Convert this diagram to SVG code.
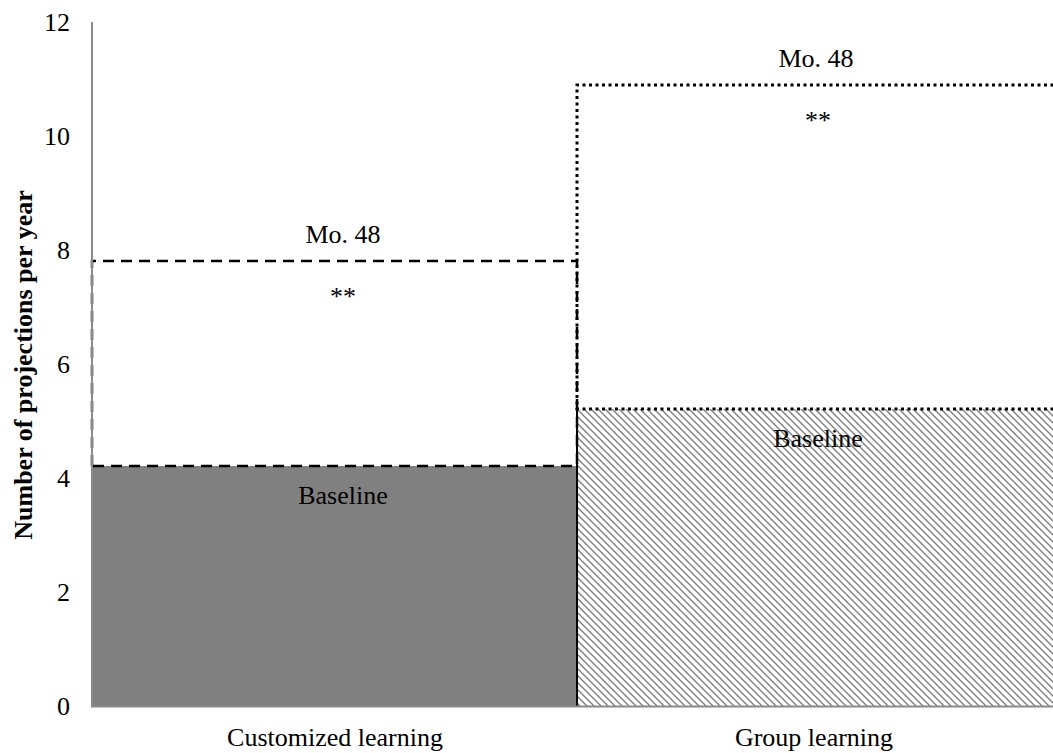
<svg xmlns="http://www.w3.org/2000/svg" width="1053" height="753" viewBox="0 0 1053 753">
<style>
  text { font-family: "Liberation Serif", "Times New Roman", serif; font-size: 26px; fill: #000; }
  .tick { text-anchor: end; }
  .mid { text-anchor: middle; }
  .title { font-weight: bold; text-anchor: middle; }
  .axis { stroke: #8a8a8a; stroke-width: 2; fill: none; }
  .dash { stroke: #000; stroke-width: 2.5; stroke-dasharray: 11 7; fill: none; }
  .dot { stroke: #000; stroke-width: 3; stroke-dasharray: 3 3.5; fill: none; }
</style>
<defs>
  <pattern id="hatch" patternUnits="userSpaceOnUse" width="7" height="7">
    <path d="M-1,-1 L8,8 M-1,6 L1,8 M6,-1 L8,1" stroke="#7a7a7a" stroke-width="1.3" fill="none"/>
  </pattern>
</defs>
<rect width="1053" height="753" fill="#fff"/>

<g id="bar-customized-baseline">
  <rect x="92" y="466" width="485" height="240" fill="#808080"/>
  <text class="mid" x="343" y="504">Baseline</text>
</g>

<g id="bar-group-baseline">
  <rect x="577" y="409" width="480" height="297" fill="url(#hatch)"/>
  <line x1="577" y1="409" x2="577" y2="706" stroke="#000" stroke-width="2"/>
  <text class="mid" x="818" y="447">Baseline</text>
</g>

<g id="bar-customized-mo48">
  <path class="dash" d="M92,466 L92,261 L577,261 L577,466 L92,466"/>
  <text class="mid" x="343" y="243">Mo. 48</text>
  <text class="mid" x="343" y="305">**</text>
</g>

<g id="bar-group-mo48">
  <path class="dot" d="M1060,85 L577,85 L577,409 L1060,409"/>
  <text class="mid" x="816" y="67">Mo. 48</text>
  <text class="mid" x="818" y="129">**</text>
</g>

<g id="axes">
  <line class="axis" x1="92" y1="22" x2="92" y2="707"/>
  <line class="axis" x1="91" y1="706.5" x2="1053" y2="706.5"/>
  <text class="tick" x="70" y="31">12</text>
  <text class="tick" x="70" y="145">10</text>
  <text class="tick" x="70" y="259">8</text>
  <text class="tick" x="70" y="373">6</text>
  <text class="tick" x="70" y="487">4</text>
  <text class="tick" x="70" y="601">2</text>
  <text class="tick" x="70" y="715">0</text>
  <text class="mid" x="335" y="746">Customized learning</text>
  <text class="mid" x="814" y="746">Group learning</text>
  <text class="title" transform="translate(32,365) rotate(-90)">Number of projections per year</text>
</g>

<g id="connectors"></g>
</svg>
